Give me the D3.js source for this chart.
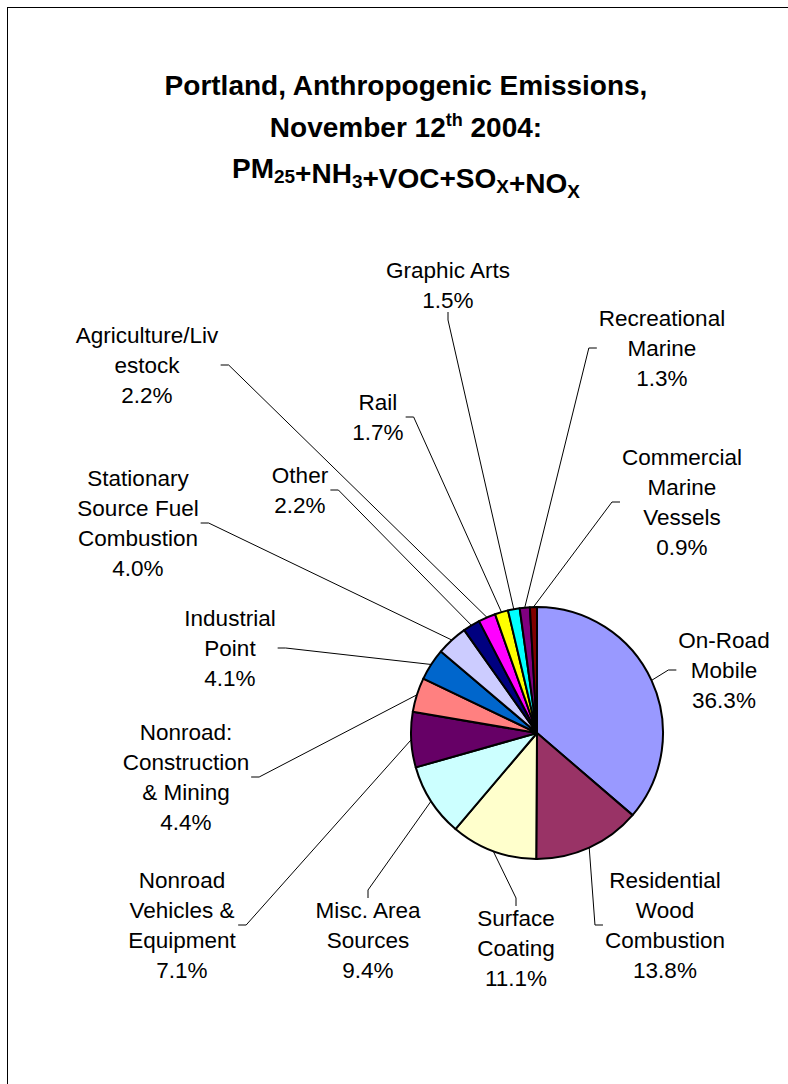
<!DOCTYPE html>
<html>
<head>
<meta charset="utf-8">
<script src="https://cdn.jsdelivr.net/npm/d3@7"></script>
<style>
  body { margin: 0; background: #fff; }
  svg { display: block; }
  text { font-family: "Liberation Sans", Arial, sans-serif; fill: #000; }
</style>
</head>
<body>
<svg id="chart"></svg>
<script>
const width = 788;
const height = 1084;

// slices, clockwise from 12 o'clock
const categories = [
  'On-Road Mobile', 'Residential Wood Combustion', 'Surface Coating', 'Misc. Area Sources',
  'Nonroad Vehicles & Equipment', 'Nonroad: Construction & Mining', 'Industrial Point',
  'Stationary Source Fuel Combustion', 'Other', 'Agriculture/Livestock', 'Rail',
  'Graphic Arts', 'Recreational Marine', 'Commercial Marine Vessels'
];
const values = [36.3, 13.8, 11.1, 9.4, 7.1, 4.4, 4.1, 4.0, 2.2, 2.2, 1.7, 1.5, 1.3, 0.9];
const colors = [
  '#9999FF', '#993366', '#FFFFCC', '#CCFFFF', '#660066', '#FF8080', '#0066CC',
  '#CCCCFF', '#000080', '#FF00FF', '#FFFF00', '#00FFFF', '#800080', '#800000'
];
// label text as wrapped in the picture
const labelLines = [
  ['On-Road', 'Mobile'],
  ['Residential', 'Wood', 'Combustion'],
  ['Surface', 'Coating'],
  ['Misc. Area', 'Sources'],
  ['Nonroad', 'Vehicles &', 'Equipment'],
  ['Nonroad:', 'Construction', '& Mining'],
  ['Industrial', 'Point'],
  ['Stationary', 'Source Fuel', 'Combustion'],
  ['Other'],
  ['Agriculture/Liv', 'estock'],
  ['Rail'],
  ['Graphic Arts'],
  ['Recreational', 'Marine'],
  ['Commercial', 'Marine', 'Vessels']
];

// label box centres and the side the leader line joins
const labelLayout = [
  [724, 670, 'l'], [665, 925, 'l'], [516, 948, 't'], [368, 940, 't'],
  [182, 925, 'r'], [186, 777, 'r'], [230, 648, 'r'], [138, 523, 'r'],
  [300, 490, 'r'], [147, 365, 'r'], [378, 417, 'r'], [448, 285, 'b'],
  [662, 348, 'l'], [682, 502, 'l']
];

const cx = 537, cy = 733, radius = 126;
const fontSize = 22.5, lineH = 30;
const fmt = d => d3.format('.1f')(d) + '%';

const svg = d3.select('#chart')
  .attr('width', width)
  .attr('height', height);

svg.append('rect')
  .attr('width', width).attr('height', height)
  .attr('fill', '#fff');

// chart area frame (only left and top edges are inside the picture)
svg.append('rect')
  .attr('x', 7.5).attr('y', 7.5)
  .attr('width', width + 20).attr('height', height + 20)
  .attr('fill', 'none')
  .attr('stroke', '#000')
  .attr('stroke-width', 1);

// title
const titleX = 406;
const title = svg.append('text')
  .attr('text-anchor', 'middle')
  .style('font-weight', 'bold')
  .style('font-size', '28px');

title.append('tspan').attr('x', titleX).attr('y', 95).text('Portland, Anthropogenic Emissions,');

const t2 = title.append('tspan').attr('x', titleX).attr('y', 137);
t2.append('tspan').text('November 12');
t2.append('tspan').attr('dy', -11).style('font-size', '18px').text('th');
t2.append('tspan').attr('dy', 11).text(' 2004:');

const t3 = title.append('tspan').attr('x', titleX).attr('y', 178);
const formula = [['PM', '25'], ['+NH', '3'], ['+VOC+SO', 'X'], ['+NO', 'X']];
formula.forEach(([main, sub]) => {
  t3.append('tspan').text(main);
  t3.append('tspan').attr('dy', 5).style('font-size', '19px').text(sub);
  t3.append('tspan').attr('dy', -5).text('');
});

// pie
const slices = categories.map((c, i) => ({ key: c, value: values[i], i }));
const pie = d3.pie().sort(null).value(d => d.value);
const arc = d3.arc().innerRadius(0).outerRadius(radius);
const arcs = pie(slices);

const g = svg.append('g').attr('transform', `translate(${cx},${cy})`);

// labels first so we can measure them
const labels = svg.append('g').style('font-size', fontSize + 'px');

arcs.forEach(d => {
  const i = d.data.i;
  const [lx, ly, side] = labelLayout[i];
  const lines = labelLines[i].concat([fmt(d.data.value)]);
  const top = ly - lines.length * lineH / 2;

  const t = labels.append('text').attr('text-anchor', 'middle');
  lines.forEach((s, k) => {
    t.append('tspan')
      .attr('x', lx)
      .attr('y', top + k * lineH + lineH / 2 + fontSize * 0.35)
      .text(s);
  });
  const bw = t.node().getBBox().width;
  const bh = lines.length * lineH;

  // leader line: stub at the label edge, then straight to the arc edge
  const mid = (d.startAngle + d.endAngle) / 2;
  const px = cx + radius * Math.sin(mid);
  const py = cy - radius * Math.cos(mid);
  let a, b;
  if (side === 'l') { a = [lx - bw / 2 - 2, ly]; b = [a[0] - 8, ly]; }
  if (side === 'r') { a = [lx + bw / 2 + 2, ly]; b = [a[0] + 8, ly]; }
  if (side === 't') { a = [lx, top + 3]; b = [lx, top - 5]; }
  if (side === 'b') { a = [lx, top + bh - 3]; b = [lx, top + bh + 5]; }

  svg.insert('path', 'g')
    .attr('d', d3.line()([a, b, [px, py]]))
    .attr('fill', 'none')
    .attr('stroke', '#000')
    .attr('stroke-width', 1);
});

g.selectAll('path')
  .data(arcs)
  .enter()
  .append('path')
  .attr('d', arc)
  .attr('fill', d => colors[d.data.i])
  .attr('stroke', '#000')
  .attr('stroke-width', 2)
  .attr('stroke-linejoin', 'round');
</script>
</body>
</html>
